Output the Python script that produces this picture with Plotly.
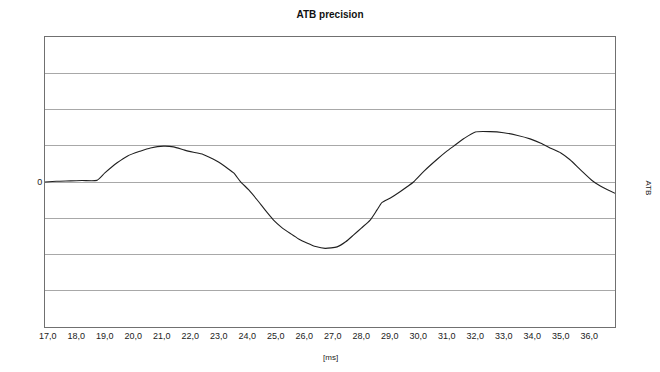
import plotly.graph_objects as go

# time [ms]
t_ms = [16.9, 17.3, 17.8, 18.2, 18.72, 19.0, 19.43, 19.8, 20.24, 20.6, 21.06, 21.41, 21.8,
        22.11, 22.45, 22.94, 23.3, 23.52, 23.75, 24.05, 24.34, 24.62, 24.92, 25.2, 25.51,
        25.8, 26.09, 26.4, 26.73, 27.15, 27.45, 27.73, 28.0, 28.31, 28.55, 28.72, 29.02,
        29.37, 29.83, 30.2, 30.65, 31.0, 31.24, 31.6, 32.0, 32.52, 32.99, 33.45, 33.92,
        34.3, 34.62, 35.0, 35.31, 35.7, 36.13, 36.5, 36.9]
# ATB precision
atb = [0.0, 0.02, 0.03, 0.04, 0.045, 0.25, 0.53, 0.72, 0.85, 0.94, 0.99, 0.97, 0.88,
       0.82, 0.76, 0.57, 0.38, 0.25, 0.02, -0.22, -0.49, -0.77, -1.05, -1.25, -1.42,
       -1.57, -1.68, -1.78, -1.83, -1.79, -1.65, -1.46, -1.27, -1.05, -0.77, -0.57, -0.44,
       -0.26, 0.0, 0.3, 0.62, 0.85, 0.99, 1.2, 1.38, 1.39, 1.36, 1.29, 1.19,
       1.07, 0.94, 0.8, 0.62, 0.33, 0.02, -0.16, -0.31]

x_ticks = [17.0 + i for i in range(20)]
y_grid = list(range(-4, 5))
y_labels = ["0" if v == 0 else "" for v in y_grid]

fig = go.Figure()
fig.add_trace(go.Scatter(x=t_ms, y=atb, mode="lines",
                         line=dict(color="#202020", width=1.1, shape="spline", smoothing=0.6),
                         showlegend=False, hoverinfo="skip"))

fig.update_layout(
    width=660, height=372,
    margin=dict(l=37, r=53, t=29, b=53),
    paper_bgcolor="white", plot_bgcolor="white",
    separators=", ",
    font=dict(family="Liberation Sans, Arial, sans-serif", size=9, color="#222222"),
    title=dict(text="<b>ATB precision</b>", x=322 / 660, xanchor="center",
               y=1 - 6 / 372, yanchor="middle", yref="container",
               font=dict(size=10, color="#111111")),
    xaxis=dict(range=[16.9, 36.9], tickvals=x_ticks, tickformat=".1f",
               showgrid=False, zeroline=False, showline=True, linecolor="#707070",
               linewidth=1, mirror=True, ticks="", tickfont=dict(size=9)),
    yaxis=dict(range=[-4, 4], tickvals=y_grid, ticktext=y_labels,
               showgrid=True, gridcolor="#a8a8a8", gridwidth=1, zeroline=False,
               showline=True, linecolor="#707070", linewidth=1, mirror=True,
               ticks="", tickfont=dict(size=9)),
    annotations=[
        dict(text="[ms]", x=0.5, xref="paper", y=-0.128, yref="paper", showarrow=False,
             font=dict(size=8)),
        dict(text="ATB", x=1.07, y=0.48, xref="paper", yref="paper", showarrow=False,
             textangle=90, font=dict(size=8)),
    ],
)

fig.write_html("out.html")
